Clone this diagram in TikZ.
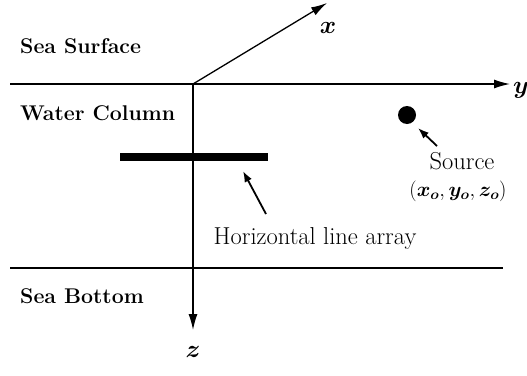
\documentclass[tikz,border=0pt]{standalone}
\usetikzlibrary{arrows.meta}
\usepackage{amsmath,bm}
\begin{document}
\begin{tikzpicture}[x=1pt,y=-1pt,
  lbl/.style={font=\fontsize{24.5}{28}\selectfont, inner sep=0pt},
  mlbl/.style={font=\fontsize{24.5}{28}\selectfont, inner sep=0pt},
  tlbl/.style={font=\fontsize{22}{26}\selectfont, inner sep=0pt},
  blbl/.style={font=\fontsize{21.3}{25}\selectfont\bfseries, inner sep=0pt, anchor=west},
  axis/.style={line width=1.3pt, -{Latex[length=16pt,width=9pt]}},
  pointer/.style={line width=1.8pt, -{Latex[length=11pt,width=8pt]}},
  boundary/.style={line width=1.3pt}]
\useasboundingbox (0,0) rectangle (527,375);
\coordinate (O) at (193,84);
\coordinate (L1) at (10,84);
\coordinate (YT) at (510,84);
\coordinate (XT) at (327,3);
\coordinate (ZT) at (193,330);
\coordinate (B1) at (10,268);
\coordinate (B2) at (503,268);
\draw[boundary] (L1) -- (O);
\draw[axis] (O) -- (YT);
\draw[axis] (O) -- (XT);
\draw[axis] (O) -- (ZT);
\draw[boundary] (B1) -- (B2);
\node[mlbl] (ylab) at (521,90) {$\bm{y}$};
\node[mlbl] (xlab) at (328,28) {$\bm{x}$};
\node[mlbl] (zlab) at (193,352) {$\bm{z}$};
\node[blbl] (surf) at (20,46) {Sea Surface};
\node[blbl] (water) at (20,113) {Water Column};
\node[blbl] (bottom) at (20,296) {Sea Bottom};
\node[fill=black, minimum width=148pt, minimum height=8pt, inner sep=0pt] (array) at (194,157) {};
\node[circle, fill=black, minimum size=18pt, inner sep=0pt] (src) at (407,115) {};
\node[lbl] (srclab) at (462,161) {Source};
\node[tlbl] (srcpos) at (458,191) {$(\bm{x_o},\bm{y_o},\bm{z_o})$};
\node[lbl] (arrlab) at (315,238) {Horizontal line array};
\coordinate (a1) at (266,214);
\coordinate (a2) at (243,171);
\draw[pointer] (a1) -- (a2);
\coordinate (s1) at (437,146);
\coordinate (s2) at (418,128);
\draw[pointer] (s1) -- (s2);
\end{tikzpicture}
\end{document}
